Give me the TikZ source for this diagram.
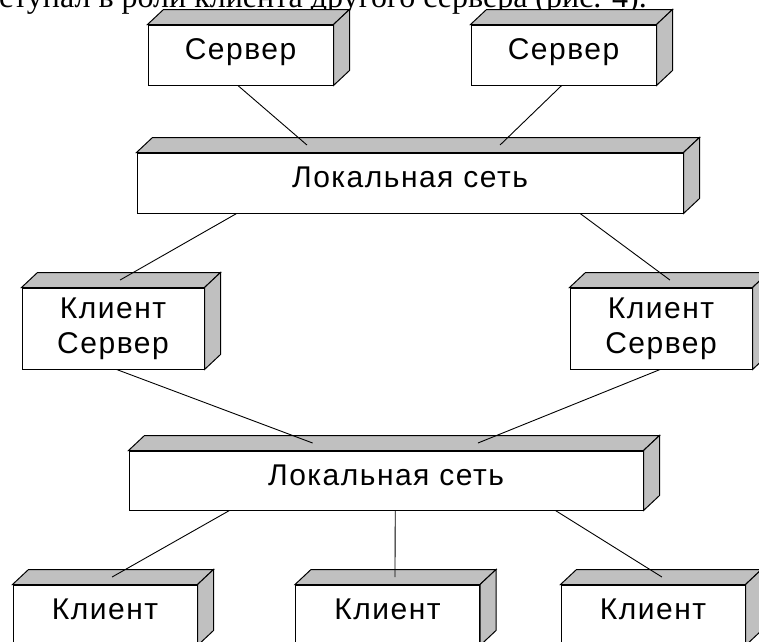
\documentclass[tikz,border=0pt]{standalone}
\usepackage{fontspec}
\setmainfont{Liberation Sans}
\newfontfamily\bodyserif{Liberation Serif}
\usetikzlibrary{calc}
\definecolor{facegray}{HTML}{C0C0C0}
\tikzset{
  front/.style={draw, fill=white, line width=1pt, inner sep=0pt, align=center,
    font=\fontsize{30}{35}\selectfont\addfontfeature{LetterSpace=5}},
  oneline/.style={text height=21pt, text depth=12pt},
  face/.style={draw, fill=facegray, line width=1pt, line join=miter},
  wire/.style={line width=0.9pt},
}
% top and right faces of a block drawn behind the named front face
\newcommand\boxsides[1]{%
  \filldraw[face] (#1.north west) -- ++(16pt,15pt) -- ($(#1.north east)+(16pt,15pt)$) -- (#1.north east) -- cycle;
  \filldraw[face] (#1.north east) -- ++(16pt,15pt) -- ($(#1.south east)+(16pt,15pt)$) -- (#1.south east) -- cycle;
}
% point on the bottom edge / middle of the top face of a block
\newcommand\btmpt[2]{($(#1.south west)!#2!(#1.south east)$)}
\newcommand\toppt[2]{($(#1.north west)!#2!(#1.north east)+(8pt,7.5pt)$)}
\begin{document}
\begin{tikzpicture}[x=1pt,y=-1pt]
\useasboundingbox (0,0) rectangle (759,641);
\clip (0,0) rectangle (759,641);

\node[anchor=base west, inner sep=0pt, font=\bodyserif\fontsize{32}{38}\selectfont] (intro) at (-1,7)
  {ступал в роли клиента другого сервера (рис. 4).};

\node[front, oneline, minimum width=185pt, minimum height=60pt] (srv1) at (240.5,55) {Сервер};
\node[front, oneline, minimum width=185pt, minimum height=60pt] (srv2) at (563.5,55) {Сервер};
\node[front, oneline, minimum width=546pt, minimum height=60pt] (net1) at (410,183) {Локальная сеть};
\node[front, minimum width=182pt, minimum height=81pt] (cs1) at (113,328.5) {Клиент\\Сервер};
\node[front, minimum width=182pt, minimum height=81pt] (cs2) at (661,328.5) {Клиент\\Сервер};
\node[front, oneline, minimum width=514pt, minimum height=59pt] (net2) at (386,480.5) {Локальная сеть};
\node[front, oneline, minimum width=184pt, minimum height=60pt] (cl1) at (105,615) {Клиент};
\node[front, oneline, minimum width=184pt, minimum height=60pt] (cl2) at (387.5,615) {Клиент};
\node[front, oneline, minimum width=184pt, minimum height=60pt] (cl3) at (653,615) {Клиент};

\foreach \b in {srv1,srv2,net1,cs1,cs2,net2,cl1,cl2,cl3} {\boxsides{\b}}

\draw[wire] \btmpt{srv1}{0.486} -- \toppt{net1}{0.297};
\draw[wire] \btmpt{srv2}{0.49} -- \toppt{net1}{0.65};
\draw[wire] \btmpt{net1}{0.183} -- \toppt{cs1}{0.495};
\draw[wire] \btmpt{net1}{0.811} -- \toppt{cs2}{0.505};
\draw[wire] \btmpt{cs1}{0.52} -- \toppt{net2}{0.342};
\draw[wire] \btmpt{cs2}{0.495} -- \toppt{net2}{0.663};
\draw[wire] \btmpt{net2}{0.196} -- \toppt{cl1}{0.495};
\draw[wire] \btmpt{net2}{0.518} -- \toppt{cl2}{0.497};
\draw[wire] \btmpt{net2}{0.829} -- \toppt{cl3}{0.505};
\end{tikzpicture}
\end{document}
